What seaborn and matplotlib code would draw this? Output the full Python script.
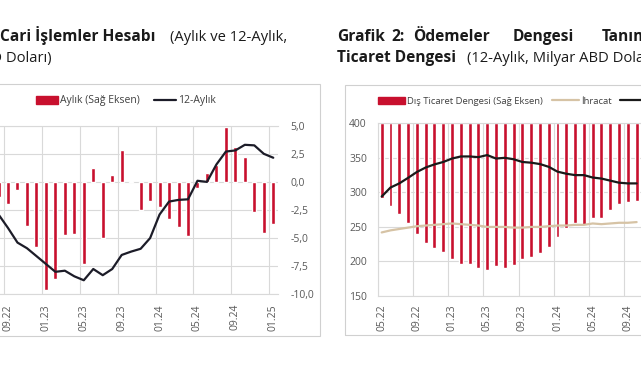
import numpy as np
import pandas as pd
import matplotlib
matplotlib.use('Agg')
from matplotlib import pyplot as plt
from matplotlib.patches import Patch, Rectangle
from matplotlib.lines import Line2D
import seaborn as sns

# Grafik 1 - cari islemler (aylik: sag eksen, 12-aylik: sol eksen)
ca_months = ['08.22', '09.22', '10.22', '11.22', '12.22',
             '01.23', '02.23', '03.23', '04.23', '05.23', '06.23', '07.23', '08.23', '09.23', '10.23', '11.23', '12.23',
             '01.24', '02.24', '03.24', '04.24', '05.24', '06.24', '07.24', '08.24', '09.24', '10.24', '11.24', '12.24',
             '01.25']
ca_monthly = [-1.3, -2.0, -0.76, -3.9, -5.8,
              -9.65, -8.6, -4.7, -4.6, -7.3, 1.26, -5.0, 0.6, 2.85, 0.05, -2.5, -1.7,
              -2.2, -3.3, -4.0, -4.8, -0.5, 0.8, 1.5, 4.9, 3.1, 2.25, -2.7, -4.55,
              -3.75]
ca_12m = [-31.6, -36.4, -41.6, -43.6, -46.4,
          -49.2, -52.0, -51.6, -53.6, -55.0, -51.0, -53.2, -51.0, -46.0, -44.8, -43.8, -40.0,
          -31.6, -27.0, -26.4, -26.2, -19.6, -20.0, -13.8, -9.2, -8.8, -6.8, -7.0, -10.0,
          -11.4]
ca_ticks = ['09.22', '01.23', '05.23', '09.23', '01.24', '05.24', '09.24', '01.25']

# Grafik 2 - dis ticaret (12-aylik)
tb_months = ['05.22', '06.22', '07.22', '08.22', '09.22', '10.22', '11.22', '12.22',
             '01.23', '02.23', '03.23', '04.23', '05.23', '06.23', '07.23', '08.23', '09.23', '10.23', '11.23', '12.23',
             '01.24', '02.24', '03.24', '04.24', '05.24', '06.24', '07.24', '08.24', '09.24', '10.24']
tb_balance = [-54, -59.5, -66, -72, -80, -86.5, -90, -93.5,
              -98, -102, -102, -104.5, -106, -103.5, -105, -102.5, -98, -96.5, -94, -89.5,
              -82, -75.5, -72.5, -73.5, -68.5, -68.5, -62.5, -58.5, -57, -56]
tb_exports = [242, 245, 247, 249, 251, 252, 253, 254,
              255, 254, 253, 252, 250, 250, 250, 249, 249, 250, 250, 251,
              252, 252, 253, 253, 255, 254, 255, 256, 256, 257]
tb_imports = [294, 307, 313, 321, 329.5, 336, 340.5, 344,
              349, 352, 352, 351, 354, 349, 350, 348, 344, 343, 341, 337,
              330, 327, 325, 325, 321.5, 320, 317, 314, 313, 313]
tb_ticks = ['05.22', '09.22', '01.23', '05.23', '09.23', '01.24', '05.24', '09.24', '01.25']

sns.set_style("white")
plt.rcParams['font.family'] = ['Open Sans', 'DejaVu Sans']

RED = '#c8102e'
GRID = '#d9d9d9'
TXT = '#595959'
W, H = 641, 380

def fx(px):
    return px / W

def fy(py):
    return 1 - py / H

def comma(v):
    return f"{v:.1f}".replace('.', ',')

fig = plt.figure(figsize=(6.41, 3.80), dpi=100)

# chart frames
fig.patches.append(Rectangle((fx(-3), fy(336)), fx(323), 252 / H, transform=fig.transFigure,
                             fill=False, edgecolor='#d0d0d0', lw=0.8))
fig.patches.append(Rectangle((fx(345), fy(335)), fx(320), 250 / H, transform=fig.transFigure,
                             fill=False, edgecolor='#d0d0d0', lw=0.8))

# ---- left chart ----
df1 = pd.DataFrame({'ay': np.arange(len(ca_months)), 'aylik': ca_monthly, 'yillik': ca_12m})
ax = fig.add_axes([fx(-6.2), fy(294.3), 284.2 / W, 168.6 / H])
sns.barplot(data=df1, x='ay', y='aylik', native_scale=True, width=0.42, color=RED,
            saturation=1, errorbar=None, ax=ax, zorder=2)
axl = ax.twinx()
sns.lineplot(data=df1, x='ay', y='yillik', color='#1c1c28', lw=1.6, ax=axl)

ax.set_ylim(-10, 5)
ax.set_yticks(np.arange(-10, 5.1, 2.5))
ax.set_yticklabels([comma(v) for v in np.arange(-10, 5.1, 2.5)])
ax.yaxis.tick_right()
ax.set_xlim(-0.5, 29.5)
tick_pos = [1 + 4 * k for k in range(len(ca_ticks))]
ax.set_xticks(tick_pos)
ax.set_xticklabels(ca_ticks, rotation=90)
ax.set_xticks([p - 0.42 for p in tick_pos], minor=True)
ax.grid(axis='y', color=GRID, lw=0.8)
ax.grid(axis='x', which='minor', color=GRID, lw=0.8)
ax.tick_params(axis='both', which='both', length=0, labelsize=7.5, labelcolor=TXT)
ax.tick_params(axis='y', pad=9)
ax.tick_params(axis='x', pad=7)
ax.set_axisbelow(True)
for s in ['left', 'right']:
    ax.spines[s].set_visible(False)
for s in ['top', 'bottom']:
    ax.spines[s].set_color(GRID)
ax.set_xlabel('')
ax.set_ylabel('')

axl.set_ylim(-60, 0)
axl.set_yticks(np.arange(-60, 1, 10))
axl.yaxis.tick_left()
axl.tick_params(length=0, labelleft=False, labelright=False)
for s in axl.spines.values():
    s.set_visible(False)
axl.set_ylabel('')
axl.set_xlabel('')

fig.legend(handles=[Patch(color=RED, label='Aylık (Sağ Eksen)'),
                    Line2D([], [], color='#1c1c28', lw=1.6, label='12-Aylık')],
           loc='center left', bbox_to_anchor=(fx(36), fy(101)), ncol=2, frameon=False,
           fontsize=7.5, labelcolor='#404040', borderpad=0, borderaxespad=0,
           handlelength=2.1, handleheight=0.7, handletextpad=0.25, columnspacing=1.3)

# ---- right chart ----
df2 = pd.DataFrame({'ay': np.arange(len(tb_months)), 'denge': tb_balance,
                    'ihracat': tb_exports, 'ithalat': tb_imports})
bx = fig.add_axes([fx(378), fy(296), 290.1 / W, 172.7 / H])
sns.barplot(data=df2, x='ay', y='denge', native_scale=True, width=0.45, color=RED,
            saturation=1, errorbar=None, ax=bx, zorder=2)
bl = bx.twinx()
sns.lineplot(data=df2, x='ay', y='ihracat', color='#d6c3a5', lw=1.6, ax=bl)
sns.lineplot(data=df2, x='ay', y='ithalat', color='#1a1a1a', lw=1.6, ax=bl)

bx.set_ylim(-125, 0)
bx.set_yticks(np.arange(-125, 1, 25))
bx.yaxis.tick_right()
bx.set_xlim(-0.42, 32.58)
tick_pos2 = [4 * k for k in range(len(tb_ticks))]
bx.set_xticks(tick_pos2)
bx.set_xticklabels(tb_ticks, rotation=90)
bx.set_xticks([p - 0.42 for p in tick_pos2], minor=True)
bx.grid(axis='y', color=GRID, lw=0.8)
bx.grid(axis='x', which='minor', color=GRID, lw=0.8)
bx.tick_params(axis='both', which='both', length=0, labelsize=7.5, labelcolor=TXT)
bx.tick_params(axis='y', labelleft=False, labelright=False)
bx.tick_params(axis='x', pad=6)
bx.set_axisbelow(True)
bx.spines['right'].set_visible(False)
for s in ['top', 'bottom', 'left']:
    bx.spines[s].set_color(GRID)
bx.set_xlabel('')
bx.set_ylabel('')

bl.set_ylim(150, 400)
bl.set_yticks(np.arange(150, 401, 50))
bl.yaxis.tick_left()
bl.tick_params(length=0, labelsize=7.5, labelcolor=TXT, pad=8)
for s in bl.spines.values():
    s.set_visible(False)
bl.set_ylabel('')
bl.set_xlabel('')

fig.legend(handles=[Patch(color=RED, label='Dış Ticaret Dengesi (Sağ Eksen)'),
                    Line2D([], [], color='#d6c3a5', lw=1.6, label='İhracat'),
                    Line2D([], [], color='#1a1a1a', lw=1.6, label='İthalat')],
           loc='center left', bbox_to_anchor=(fx(378), fy(101)), ncol=3, frameon=False,
           fontsize=6.8, labelcolor='#404040', borderpad=0, borderaxespad=0,
           handlelength=2.9, handleheight=0.75, handletextpad=0.2, columnspacing=0.9)

# ---- titles ----
tc = '#1a1a1a'
BOLD = 11.2
REG = 10.6
fig.text(fx(0), fy(41), 'Cari İşlemler Hesabı', fontsize=BOLD, fontweight='bold', color=tc, va='baseline')
fig.text(fx(170), fy(41), '(Aylık ve 12-Aylık,', fontsize=REG, color=tc, va='baseline')
fig.text(fx(52), fy(62), 'Milyar ABD Doları)', fontsize=REG, color=tc, va='baseline', ha='right')

for word, px in [('Grafik', 337), ('2:', 391), ('Ödemeler', 413), ('Dengesi', 513), ('Tanımlı', 602)]:
    fig.text(fx(px), fy(41), word, fontsize=BOLD, fontweight='bold', color=tc, va='baseline')
fig.text(fx(337), fy(62), 'Ticaret Dengesi', fontsize=BOLD, fontweight='bold', color=tc, va='baseline')
fig.text(fx(467), fy(62), '(12-Aylık, Milyar ABD Doları)', fontsize=REG, color=tc, va='baseline')

fig.savefig('out.png', dpi=100)
